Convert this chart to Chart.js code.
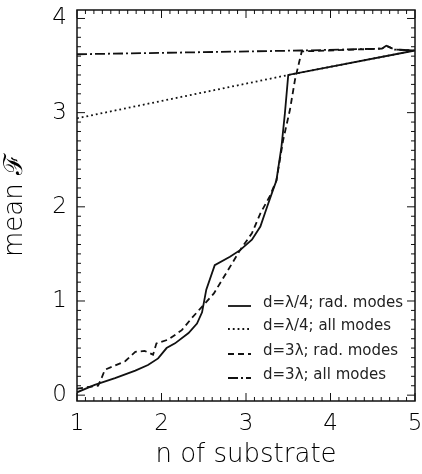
<!DOCTYPE html>
<html>
<head>
<meta charset="utf-8">
<script src="https://cdn.jsdelivr.net/npm/chart.js@4.4.1/dist/chart.umd.min.js"></script>
<style>
  html, body { margin: 0; padding: 0; background: #fff; }
  #wrap { width: 422px; height: 474px; }
</style>
</head>
<body>
<div id="wrap"><canvas id="fig"></canvas></div>
<script>
// curve values: n of substrate (x) vs mean F (y)
const radQuarterX = [1.00, 1.21, 1.45, 1.69, 1.84, 1.96, 2.06, 2.16, 2.32, 2.42, 2.48, 2.53, 2.63, 2.81, 2.93, 3.07, 3.17, 3.25, 3.32, 3.36, 3.42, 3.46, 3.50, 5.00];
const radQuarterY = [0.03, 0.11, 0.18, 0.26, 0.32, 0.39, 0.50, 0.55, 0.66, 0.76, 0.88, 1.12, 1.38, 1.47, 1.54, 1.65, 1.79, 2.00, 2.18, 2.28, 2.64, 2.99, 3.40, 3.66];

const allQuarterX = [1.00, 3.50, 5.00];
const allQuarterY = [2.94, 3.40, 3.66];

const rad3X = [1.00, 1.25, 1.29, 1.33, 1.57, 1.69, 1.80, 1.90, 1.94, 2.08, 2.24, 2.36, 2.50, 2.62, 2.93, 3.07, 3.17, 3.28, 3.36, 3.44, 3.52, 3.58, 3.63, 3.66, 4.61, 4.66, 4.76, 5.00];
const rad3Y = [0.07, 0.10, 0.18, 0.27, 0.36, 0.46, 0.47, 0.43, 0.55, 0.59, 0.69, 0.82, 0.96, 1.08, 1.54, 1.72, 1.93, 2.11, 2.28, 2.71, 3.03, 3.35, 3.54, 3.65, 3.68, 3.71, 3.67, 3.66];

const all3X = [1.00, 3.66, 4.61, 4.66, 4.76, 5.00];
const all3Y = [3.62, 3.66, 3.68, 3.71, 3.67, 3.66];

const seriesLabels = ['d=\u03bb/4; rad. modes', 'd=\u03bb/4; all modes', 'd=3\u03bb; rad. modes', 'd=3\u03bb; all modes'];
const xTicks = [1, 2, 3, 4, 5];
const yTicks = [0, 1, 2, 3, 4];

function pts(xs, ys) {
    return xs.map((x, i) => ({ x: x, y: ys[i] }));
}

const ink = '#111';
const textInk = '#000';
const fontFam = '"DejaVu Sans", sans-serif';

// frame, inward ticks on all sides, and the legend box inside the plot
const framePlugin = {
    id: 'frame',
    afterDraw(chart) {
        const ctx = chart.ctx;
        const a = chart.chartArea;
        const xs = chart.scales.x, ys = chart.scales.y;
        ctx.save();
        ctx.strokeStyle = ink;
        ctx.lineWidth = 1.5;
        ctx.strokeRect(a.left, a.top, a.right - a.left, a.bottom - a.top);

        ctx.lineWidth = 1;
        ctx.beginPath();
        for (let v = 10; v <= 50; v++) {
            const px = xs.getPixelForValue(v / 10);
            const len = v % 10 === 0 ? 8 : 4;
            ctx.moveTo(px, a.bottom); ctx.lineTo(px, a.bottom - len);
            ctx.moveTo(px, a.top); ctx.lineTo(px, a.top + len);
        }
        for (let v = 0; v <= 40; v++) {
            const py = ys.getPixelForValue(v / 10);
            const len = v % 10 === 0 ? 8 : 4;
            ctx.moveTo(a.left, py); ctx.lineTo(a.left + len, py);
            ctx.moveTo(a.right, py); ctx.lineTo(a.right - len, py);
        }
        ctx.stroke();

        // legend
        const rowsY = [303, 326, 351, 375];
        ctx.font = '15px ' + fontFam;
        ctx.fillStyle = '#222';
        ctx.textBaseline = 'middle';
        chart.data.datasets.forEach((ds, i) => {
            const y = rowsY[i];
            ctx.save();
            ctx.strokeStyle = ink;
            ctx.lineWidth = ds.borderWidth;
            ctx.setLineDash(ds.borderDash || []);
            ctx.beginPath();
            ctx.moveTo(228, y + 3);
            ctx.lineTo(251, y + 3);
            ctx.stroke();
            ctx.restore();
            ctx.fillText(ds.label, 263, y);
        });
        ctx.restore();
    }
};

const ctx = document.getElementById('fig').getContext('2d');
const chart = new Chart(ctx, {
    type: 'line',
    data: {
        datasets: [
            {
                label: seriesLabels[0],
                data: pts(radQuarterX, radQuarterY),
                borderColor: ink,
                borderWidth: 1.8,
                borderDash: []
            },
            {
                label: seriesLabels[1],
                data: pts(allQuarterX, allQuarterY),
                borderColor: ink,
                borderWidth: 1.8,
                borderDash: [1.8, 3]
            },
            {
                label: seriesLabels[2],
                data: pts(rad3X, rad3Y),
                borderColor: ink,
                borderWidth: 1.8,
                borderDash: [6, 4]
            },
            {
                label: seriesLabels[3],
                data: pts(all3X, all3Y),
                borderColor: ink,
                borderWidth: 1.8,
                borderDash: [10, 3, 2, 3]
            }
        ]
    },
    options: {
        responsive: true,
        maintainAspectRatio: false,
        animation: false,
        layout: { padding: { top: 10, right: 7, left: 0, bottom: 0 } },
        elements: {
            point: { radius: 0 },
            line: { tension: 0, fill: false }
        },
        plugins: {
            legend: { display: false },
            tooltip: { enabled: false }
        },
        scales: {
            x: {
                type: 'linear',
                min: 1,
                max: 5,
                afterBuildTicks: s => { s.ticks = xTicks.map(v => ({ value: v })); },
                afterFit: s => { s.height = 73; s.paddingLeft = 0; s.paddingRight = 0; },
                grid: { display: false, drawTicks: false },
                border: { display: false },
                ticks: { padding: 9, color: textInk, font: { family: fontFam, size: 23, weight: 200 } },
                title: {
                    display: true,
                    text: 'n of substrate',
                    color: textInk,
                    padding: { top: 0, bottom: 3 },
                    font: { family: fontFam, size: 26, weight: 200 }
                }
            },
            y: {
                type: 'linear',
                min: -0.062,
                max: 4.09,
                afterBuildTicks: s => { s.ticks = yTicks.map(v => ({ value: v })); },
                afterFit: s => { s.width = 77; s.paddingTop = 0; s.paddingBottom = 0; },
                grid: { display: false, drawTicks: false },
                border: { display: false },
                ticks: { padding: 10, color: textInk, font: { family: fontFam, size: 23, weight: 200 } },
                title: {
                    display: true,
                    text: 'mean \u2131',
                    color: textInk,
                    padding: { top: 0, bottom: 0 },
                    font: { family: fontFam, size: 26, weight: 200 }
                }
            }
        }
    },
    plugins: [framePlugin]
});
</script>
</body>
</html>
